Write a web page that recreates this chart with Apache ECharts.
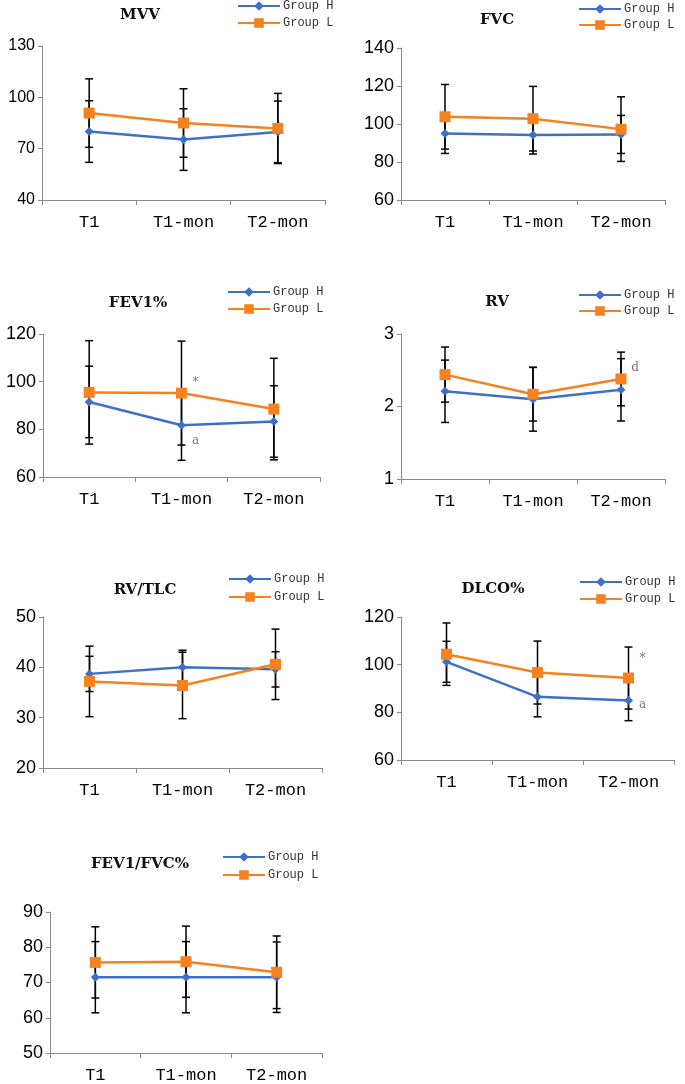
<!DOCTYPE html>
<html><head><meta charset="utf-8">
<script src="https://cdn.jsdelivr.net/npm/echarts@6/dist/echarts.min.js"></script>
<style>html,body{margin:0;padding:0;background:#fff}#c{width:685px;height:1084px}</style>
</head><body><div id="c"></div>
<script>
// ---------- data ----------
const categories = ['T1', 'T1-mon', 'T2-mon'];
const seriesNames = ['Group H', 'Group L'];
const panelTitles = ['MVV', 'FVC', 'FEV1%', 'RV', 'RV/TLC', 'DLCO%', 'FEV1/FVC%'];
const yMin = [40, 60, 60, 1, 20, 60, 50];
const yMax = [130, 140, 120, 3, 50, 120, 90];
const yStep = [30, 20, 20, 1, 10, 20, 10];

const mvvH = [80, 75.3, 79.8];      const mvvHsd = [18, 18, 18];
const mvvL = [90.8, 85, 81.8];      const mvvLsd = [20, 20, 20.5];
const fvcH = [95, 94.2, 94.5];      const fvcHsd = [10.5, 10, 10];
const fvcL = [103.8, 102.8, 97.3];  const fvcLsd = [17, 17, 17];
const fev1H = [91.5, 81.7, 83.3];   const fev1Hsd = [15, 14.7, 15];
const fev1L = [95.5, 95.2, 88.5];   const fev1Lsd = [21.7, 21.8, 21.3];
const rvH = [2.21, 2.1, 2.23];      const rvHsd = [0.43, 0.44, 0.43];
const rvL = [2.44, 2.17, 2.38];     const rvLsd = [0.38, 0.37, 0.37];
const rvtlcH = [38.7, 40, 39.6];    const rvtlcHsd = [3.5, 3.4, 3.5];
const rvtlcL = [37.2, 36.4, 40.6];  const rvtlcLsd = [7, 6.6, 7];
const dlcoH = [101.2, 86.5, 85];    const dlcoHsd = [8.6, 8.4, 8.5];
const dlcoL = [104.4, 96.7, 94.4];  const dlcoLsd = [13.1, 13.2, 13];
const ratioH = [71.5, 71.5, 71.5];  const ratioHsd = [10.1, 10.1, 10];
const ratioL = [75.7, 75.9, 72.9];  const ratioLsd = [10.1, 10.1, 10.3];

const groupH = [mvvH, fvcH, fev1H, rvH, rvtlcH, dlcoH, ratioH];
const groupHsd = [mvvHsd, fvcHsd, fev1Hsd, rvHsd, rvtlcHsd, dlcoHsd, ratioHsd];
const groupL = [mvvL, fvcL, fev1L, rvL, rvtlcL, dlcoL, ratioL];
const groupLsd = [mvvLsd, fvcLsd, fev1Lsd, rvLsd, rvtlcLsd, dlcoLsd, ratioLsd];

// significance marks: panel, category index, value, text
const annotPanel = [2, 2, 3, 5, 5];
const annotCat = [1, 1, 2, 2, 2];
const annotValue = [99.4, 75, 2.53, 102.3, 83];
const annotText = ['*', 'a', 'd', '*', 'a'];

// ---------- layout ----------
const grids = [
  {left: 42, top: 46, width: 283, height: 154},
  {left: 401, top: 48, width: 264, height: 152},
  {left: 43, top: 334, width: 277, height: 143},
  {left: 401, top: 334, width: 264, height: 145},
  {left: 43, top: 617, width: 279, height: 151},
  {left: 401, top: 617, width: 273, height: 143},
  {left: 50, top: 912, width: 272, height: 141}
];
const legendPos = [[237, 0, 5], [578, 3, 4], [227, 286, 5], [578, 289, 4], [228, 573, 6], [579, 576, 5], [222, 851, 6]];
const titlePos = [[140, 15], [497, 20], [138, 303], [497, 302], [145, 590], [493, 589], [140, 864]];

const BLUE = '#3F6FC6', ORANGE = '#F5811F';

function errRender(params, api) {
  const x = api.value(0), y = api.value(1), sd = api.value(2);
  const t = api.coord([x, y + sd]), b = api.coord([x, y - sd]);
  const hw = 4;
  const st = {stroke: '#000', lineWidth: 1.5};
  return {type: 'group', children: [
    {type: 'line', shape: {x1: t[0], y1: t[1], x2: b[0], y2: b[1]}, style: st},
    {type: 'line', shape: {x1: t[0] - hw, y1: t[1], x2: t[0] + hw, y2: t[1]}, style: st},
    {type: 'line', shape: {x1: b[0] - hw, y1: b[1], x2: b[0] + hw, y2: b[1]}, style: st}
  ]};
}

const xAxis = [], yAxis = [], series = [], legend = [], graphic = [];
grids.forEach((g, i) => {
  xAxis.push({
    type: 'category', gridIndex: i, data: categories, boundaryGap: true,
    axisLine: {lineStyle: {color: '#8a8a8a', width: 1}},
    axisTick: {show: true, length: 5, lineStyle: {color: '#8a8a8a'}},
    axisLabel: {color: '#000', fontFamily: 'Liberation Mono', fontSize: 17, margin: 14}
  });
  yAxis.push({
    type: 'value', gridIndex: i, min: yMin[i], max: yMax[i], interval: yStep[i],
    splitLine: {show: false},
    axisLine: {show: true, lineStyle: {color: '#8a8a8a', width: 1}},
    axisTick: {show: true, length: 4, lineStyle: {color: '#8a8a8a'}},
    axisLabel: {color: '#000', fontFamily: 'Liberation Sans', fontSize: i === 0 ? 16 : 18, margin: 7}
  });
  const errH = groupH[i].map((v, k) => [k, v, groupHsd[i][k]]);
  const errL = groupL[i].map((v, k) => [k, v, groupLsd[i][k]]);
  series.push({type: 'custom', name: 'errH' + i, xAxisIndex: i, yAxisIndex: i, renderItem: errRender,
    data: errH, encode: {x: 0, y: 1}, z: 1, silent: true});
  series.push({type: 'custom', name: 'errL' + i, xAxisIndex: i, yAxisIndex: i, renderItem: errRender,
    data: errL, encode: {x: 0, y: 1}, z: 1, silent: true});
  series.push({type: 'line', name: seriesNames[0], xAxisIndex: i, yAxisIndex: i, data: groupH[i],
    symbol: 'diamond', symbolSize: 9, z: 3,
    lineStyle: {color: BLUE, width: 2.5}, itemStyle: {color: BLUE}});
  const marks = [];
  annotPanel.forEach((p, k) => {
    if (p === i) marks.push({name: annotText[k], coord: [annotCat[k], annotValue[k]]});
  });
  series.push({type: 'line', name: seriesNames[1], xAxisIndex: i, yAxisIndex: i, data: groupL[i],
    symbol: 'rect', symbolSize: 11, z: 4,
    lineStyle: {color: ORANGE, width: 2.5}, itemStyle: {color: ORANGE},
    markPoint: marks.length ? {
      symbol: 'circle', symbolSize: 1, itemStyle: {color: 'rgba(0,0,0,0)'},
      label: {show: true, formatter: '{b}', offset: [14, 0], color: '#777', fontSize: 12, fontFamily: 'DejaVu Serif'},
      data: marks
    } : undefined
  });
  legend.push({
    data: seriesNames, orient: 'vertical', left: legendPos[i][0], top: legendPos[i][1],
    itemWidth: 42, itemHeight: 12, itemGap: legendPos[i][2], padding: 0, selectedMode: false,
    textStyle: {fontFamily: 'Liberation Mono', fontSize: 12, color: '#333', padding: [0, 0, 0, -2]}
  });
  graphic.push({
    type: 'text', x: titlePos[i][0], y: titlePos[i][1],
    style: {text: panelTitles[i], font: 'bold 15px "DejaVu Serif"', fill: '#111',
      align: 'center', verticalAlign: 'middle', textAlign: 'center', textVerticalAlign: 'middle'}
  });
});

const chart = echarts.init(document.getElementById('c'), null, {renderer: 'canvas'});
chart.setOption({
  animation: false,
  backgroundColor: '#fff',
  grid: grids,
  xAxis: xAxis,
  yAxis: yAxis,
  legend: legend,
  graphic: graphic,
  series: series
});
</script></body></html>
